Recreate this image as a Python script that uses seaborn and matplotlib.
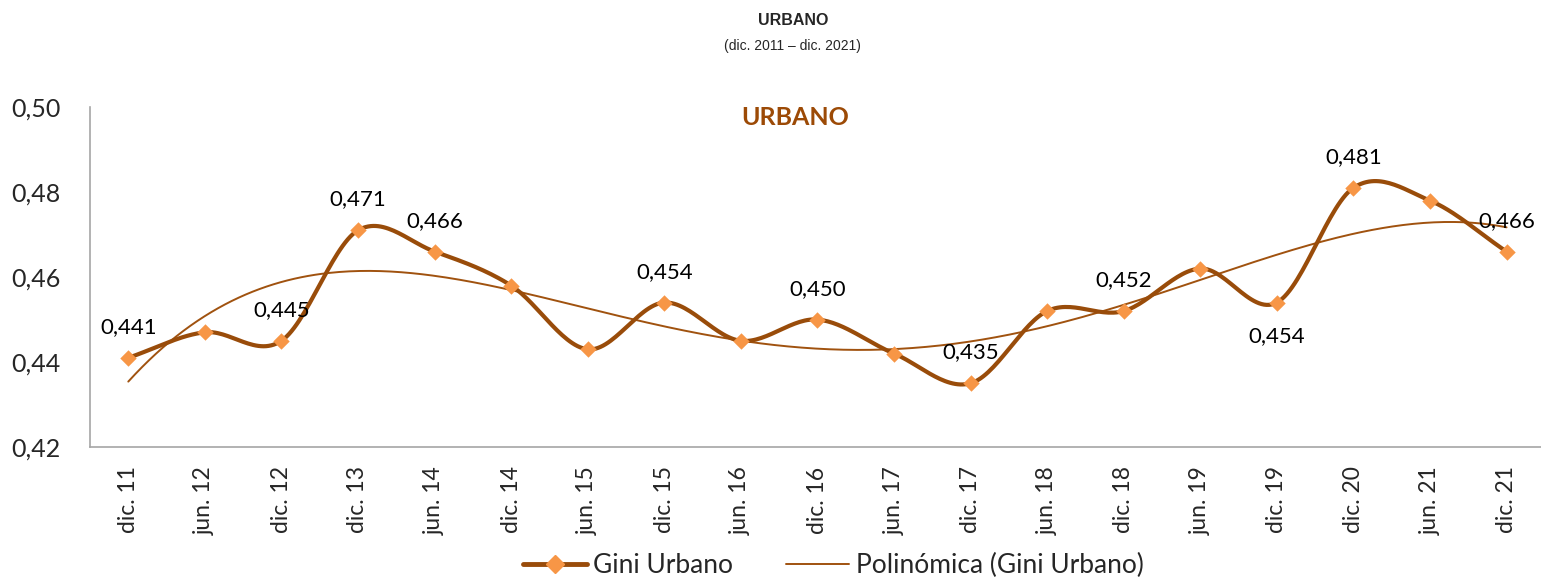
import numpy as np
import pandas as pd
import matplotlib
matplotlib.use("Agg")
import matplotlib.pyplot as plt
import seaborn as sns
from matplotlib.lines import Line2D

categories = ["dic. 11", "jun. 12", "dic. 12", "dic. 13", "jun. 14", "dic. 14", "jun. 15",
              "dic. 15", "jun. 16", "dic. 16", "jun. 17", "dic. 17", "jun. 18", "dic. 18",
              "jun. 19", "dic. 19", "dic. 20", "jun. 21", "dic. 21"]
gini = [0.441, 0.447, 0.445, 0.471, 0.466, 0.458, 0.443, 0.454, 0.445, 0.450, 0.442,
        0.435, 0.452, 0.452, 0.462, 0.454, 0.481, 0.478, 0.466]
# labels shown (index -> position above/below)
label_idx = [0, 2, 3, 4, 7, 9, 11, 13, 15, 16, 18]
label_pos = ["above"] * 8 + ["below", "above", "above"]
yticks = [0.42, 0.44, 0.46, 0.48, 0.50]
TREND_DEGREE = 4

LINE = "#994C0A"
MARK = "#F79646"
TREND = "#A0520F"

sns.set_style("white")
plt.rcParams["font.family"] = ["Lato", "DejaVu Sans"]

fig = plt.figure(figsize=(15.41, 5.8), dpi=100)
ax = fig.add_axes([0.0584, 0.2293, 0.9416, 0.586])

x = np.arange(len(gini), dtype=float)
y = np.array(gini)

# Smoothed (Catmull-Rom) rendering of the series line, like Excel smoothing
def catmull(xs, ys, n=30):
    px = np.concatenate([[2 * xs[0] - xs[1]], xs, [2 * xs[-1] - xs[-2]]])
    py = np.concatenate([[2 * ys[0] - ys[1]], ys, [2 * ys[-1] - ys[-2]]])
    ox, oy = [], []
    for i in range(1, len(px) - 2):
        t = np.linspace(0, 1, n, endpoint=False)
        for arr, out in ((px, ox), (py, oy)):
            p0, p1, p2, p3 = arr[i - 1], arr[i], arr[i + 1], arr[i + 2]
            out.extend(0.5 * ((2 * p1) + (-p0 + p2) * t + (2 * p0 - 5 * p1 + 4 * p2 - p3) * t ** 2
                              + (-p0 + 3 * p1 - 3 * p2 + p3) * t ** 3))
    ox.append(xs[-1]); oy.append(ys[-1])
    return np.array(ox), np.array(oy)

sx, sy = catmull(x, y)
smooth_df = pd.DataFrame({"x": sx, "y": sy})
sns.lineplot(data=smooth_df, x="x", y="y", ax=ax, color=LINE, linewidth=3, sort=False,
             estimator=None, zorder=3)

# polynomial trend fitted to the series
coef = np.polyfit(x, y, TREND_DEGREE)
tx = np.linspace(0, len(gini) - 1, 400)
trend_df = pd.DataFrame({"x": tx, "y": np.polyval(coef, tx)})
sns.lineplot(data=trend_df, x="x", y="y", ax=ax, color=TREND, linewidth=1.4,
             estimator=None, zorder=2)

pts = pd.DataFrame({"x": x, "y": y})
sns.scatterplot(data=pts, x="x", y="y", ax=ax, marker="D", s=70, color=MARK,
                edgecolor=MARK, linewidth=0, zorder=4)

for i, pos in zip(label_idx, label_pos):
    txt = f"{gini[i]:.3f}".replace(".", ",")
    if pos == "above":
        ax.annotate(txt, (x[i], y[i]), xytext=(0, 15), textcoords="offset points",
                    ha="center", va="bottom", fontsize=16, color="black", zorder=5)
    else:
        ax.annotate(txt, (x[i], y[i]), xytext=(0, -17), textcoords="offset points",
                    ha="center", va="top", fontsize=16, color="black", zorder=5)

ax.set_xlim(-0.5, len(gini) - 0.55)
ax.set_ylim(0.42, 0.50)
ax.set_yticks(yticks)
ax.set_yticklabels([f"{v:.2f}".replace(".", ",") for v in yticks], fontsize=18)
ax.set_xticks(x)
ax.set_xticklabels(categories, rotation=90, fontsize=16.5)
ax.tick_params(axis="both", length=0)
ax.tick_params(axis="x", pad=14)
ax.tick_params(axis="y", pad=21)
ax.set_xlabel("")
ax.set_ylabel("")
for s in ["top", "right"]:
    ax.spines[s].set_visible(False)
for s in ["left", "bottom"]:
    ax.spines[s].set_color("#A6A6A6")
    ax.spines[s].set_linewidth(1.2)

ax.text(0.486, 0.97, "URBANO", transform=ax.transAxes, ha="center", va="center",
        fontsize=18, fontweight="bold", color="#9C4A06")

fig.text(0.5145, 0.965, "URBANO", ha="center", va="center", fontsize=11.5, fontweight="bold",
         family=["Liberation Sans Narrow", "Liberation Sans", "DejaVu Sans"])
fig.text(0.5145, 0.921, "(dic. 2011 \u2013 dic. 2021)", ha="center", va="center", fontsize=10,
         family=["Liberation Sans Narrow", "Liberation Sans", "DejaVu Sans"])

handles = [Line2D([0], [0], color=LINE, linewidth=3.5, marker="D", markersize=9,
                  markerfacecolor=MARK, markeredgecolor=MARK),
           Line2D([0], [0], color=TREND, linewidth=1.4)]
fig.legend(handles, ["Gini Urbano", "Polinómica (Gini Urbano)"], loc="center",
           bbox_to_anchor=(0.541, 0.025), ncol=2, frameon=False, fontsize=19,
           handlelength=2.4, columnspacing=2.0, handletextpad=0.25)

fig.savefig("out.png", dpi=100)
